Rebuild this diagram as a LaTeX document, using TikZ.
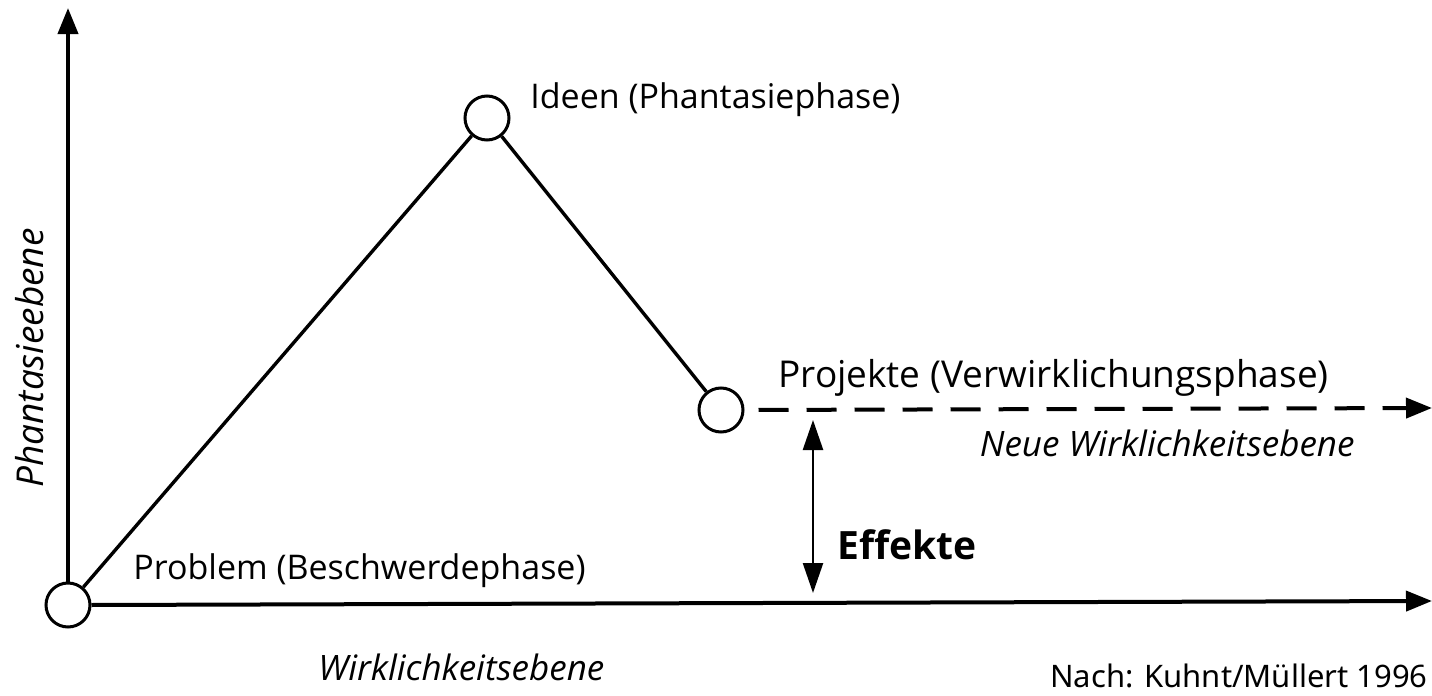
\documentclass[tikz,border=0pt]{standalone}
\usepackage{fontspec}
\setmainfont{Open Sans}
\newfontfamily\notefont{Noto Sans}
\usetikzlibrary{arrows.meta}
\begin{document}
\begin{tikzpicture}[x=0.5pt,y=-0.5pt,
  circ/.style={circle,draw,line width=1.5pt,minimum size=22pt,inner sep=0pt},
  axis/.style={line width=2pt,-{Triangle[length=13pt,width=10pt]}},
  conn/.style={line width=1.7pt},
  lbl/.style={font=\fontsize{17}{20}\selectfont,inner sep=0pt},
  ilbl/.style={font=\fontsize{17.5}{20}\selectfont\itshape,inner sep=0pt}]
\useasboundingbox (0,0) rectangle (1432,696);
\node[circ] (p) at (68,605) {};
\node[circ] (i) at (487,118) {};
\node[circ] (v) at (721,410) {};
\coordinate (ytop) at (68,8);
\coordinate (xend) at (1432,601);
\coordinate (dend) at (1432,408);
\coordinate (etop) at (813,420);
\coordinate (ebot) at (813,593);
\draw[axis] (p.north) -- (ytop);
\draw[axis] (p.east) -- (xend);
\draw[conn] (p) -- (i);
\draw[conn] (i) -- (v);
\draw[axis,dash pattern=on 15pt off 9pt,shorten <=7pt] (v.east) -- (dend);
\draw[line width=1.2pt,{Triangle[length=15pt,width=10pt]}-{Triangle[length=15pt,width=10pt]}] (etop) -- (ebot);
\node[lbl,anchor=west] (ti) at (530,100) {Ideen (Phantasiephase)};
\node[lbl,anchor=west,font=\fontsize{18.5}{20}\selectfont] (tv) at (778,378) {Projekte (Verwirklichungsphase)};
\node[ilbl,anchor=east] (tn) at (1355,443) {Neue Wirklichkeitsebene};
\node[lbl,anchor=west] (tp) at (133,571) {Problem (Beschwerdephase)};
\node[ilbl,anchor=west] (tw) at (318,667) {Wirklichkeitsebene};
\node[lbl,anchor=west,font=\fontsize{19.5}{22}\selectfont\bfseries] (te) at (837,545) {Effekte};
\node[ilbl,rotate=90,font=\fontsize{18.5}{20}\selectfont\itshape] (tf) at (30,358) {Phantasieebene};
\node[inner sep=0pt,anchor=east,font=\notefont\fontsize{15.5}{18}\selectfont] (tk) at (1428,676) {Nach: Kuhnt/Müllert 1996};
\end{tikzpicture}
\end{document}
